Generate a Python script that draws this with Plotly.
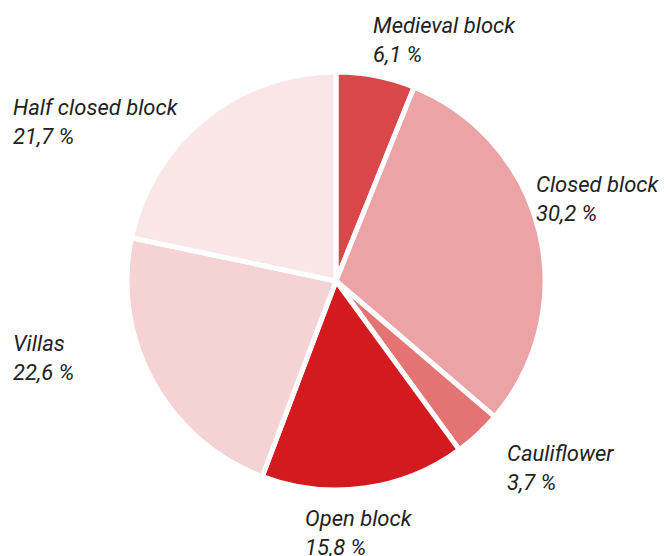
import plotly.graph_objects as go

# Share of urban fabric by building type (%)
categories = ["Medieval block", "Closed block", "Cauliflower", "Open block", "Villas", "Half closed block"]
shares = [6.1, 30.2, 3.7, 15.8, 22.6, 21.7]
colors = ["#D9474B", "#EBA3A5", "#E57374", "#D21A1F", "#F5D2D3", "#F9E7E8"]

# Label anchor points in pixels (left edge, top edge)
label_pos = {
    "Medieval block": (371, 11),
    "Closed block": (534, 170),
    "Cauliflower": (505, 439),
    "Open block": (303, 504),
    "Villas": (11, 329),
    "Half closed block": (11, 93),
}

W, H = 664, 556
cx, cy, r = 336, 281, 209

fig = go.Figure(go.Pie(
    labels=categories,
    values=shares,
    sort=False,
    direction="clockwise",
    rotation=0,
    marker=dict(colors=colors, line=dict(color="white", width=5)),
    textinfo="none",
    hoverinfo="label+percent",
    showlegend=False,
    domain=dict(x=[(cx - r) / W, (cx + r) / W], y=[1 - (cy + r) / H, 1 - (cy - r) / H]),
))

for name, val in zip(categories, shares):
    px, py = label_pos[name]
    fig.add_annotation(
        x=px / W, y=1 - py / H, xref="paper", yref="paper",
        xanchor="left", yanchor="top", align="left", showarrow=False,
        text=f"<i>{name}<br>{val:.1f} %</i>".replace(".", ","),
        font=dict(family="Roboto", size=22, color="#222222"),
    )

fig.update_layout(
    width=W, height=H,
    margin=dict(l=0, r=0, t=0, b=0),
    paper_bgcolor="white", plot_bgcolor="white",
)

fig.write_html("out.html")
